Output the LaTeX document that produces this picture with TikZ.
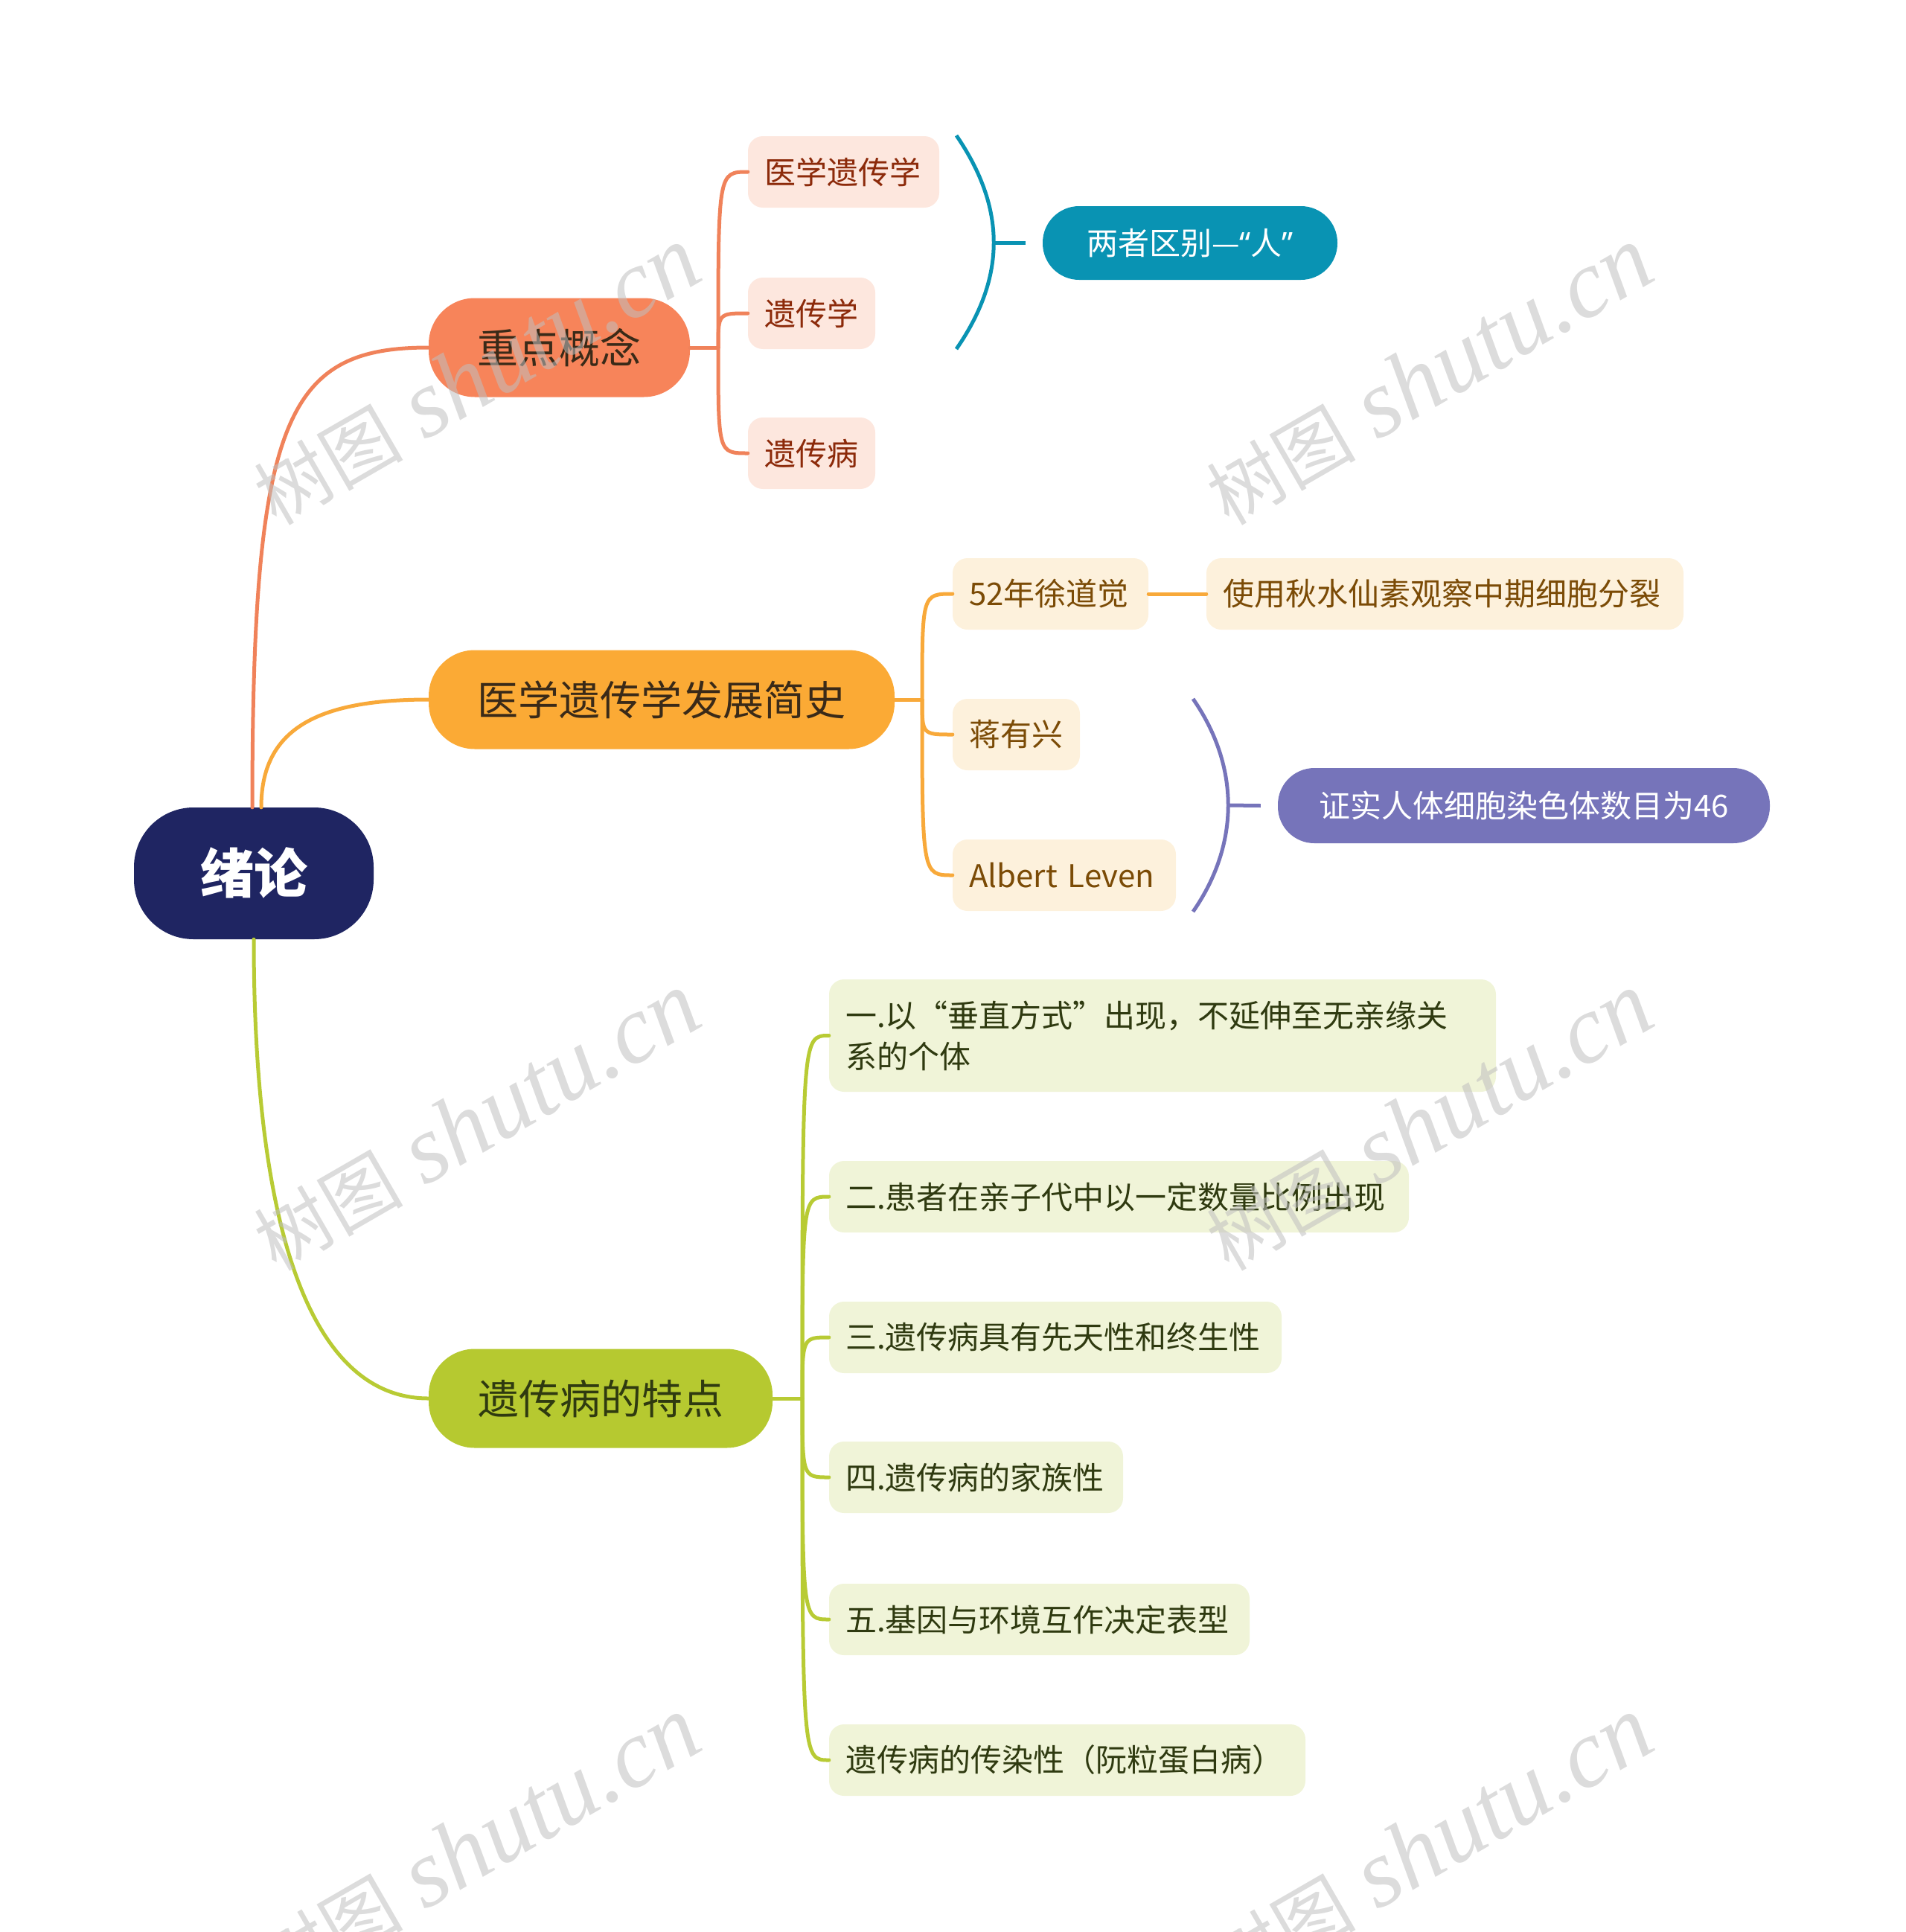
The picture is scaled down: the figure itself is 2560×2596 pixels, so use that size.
\documentclass[tikz,border=0pt]{standalone}
\usepackage{fontspec}
\setmainfont{Noto Sans CJK SC}
\newfontfamily\lat{Noto Sans}
\newfontfamily\wmcjk{Noto Sans CJK SC}
\newfontfamily\wmlat{Liberation Serif}
\definecolor{rootc}{HTML}{1F2562}
\definecolor{orgB}{HTML}{F7845A}
\definecolor{orgL}{HTML}{F0825A}
\definecolor{peach}{HTML}{FDE7DE}
\definecolor{peachT}{HTML}{8C2A0A}
\definecolor{tealc}{HTML}{0993B3}
\definecolor{yelB}{HTML}{FBAA35}
\definecolor{yelL}{HTML}{F8A93A}
\definecolor{yelF}{HTML}{FDF1DC}
\definecolor{yelT}{HTML}{7B4B06}
\definecolor{purp}{HTML}{7674BA}
\definecolor{grnB}{HTML}{B6C930}
\definecolor{grnL}{HTML}{B8CB34}
\definecolor{grnF}{HTML}{F0F4D8}
\definecolor{grnT}{HTML}{2F3A10}
\definecolor{darkT}{HTML}{3A2A18}
\begin{document}
\begin{tikzpicture}[x=1pt,y=-1pt,
  rootbox/.style={fill=rootc, rounded corners=80pt, minimum width=322pt, minimum height=177pt, inner sep=0pt, text=white, font=\fontsize{72}{80}\selectfont\bfseries},
  mainbox/.style={rounded corners=62pt, minimum height=133pt, inner sep=0pt, font=\fontsize{55}{62}\selectfont},
  leafbox/.style={rounded corners=20pt, minimum height=96pt, inner xsep=22pt, inner ysep=0pt, align=left, font=\fontsize{42}{55}\selectfont},
  pillbox/.style={rounded corners=49pt, minimum height=99pt, inner sep=0pt, text=white, font=\fontsize{42}{50}\selectfont},
  conn/.style={line width=5pt, line cap=round},
  wm/.style={rotate=30, text=black!25, opacity=0.55, inner sep=0pt}
]
\useasboundingbox (0,0) rectangle (2560,2596);

% root
\node[rootbox] (root) at (341,1173.5) {绪论};

% main branches
\node[mainbox, fill=orgB, text=darkT, minimum width=351pt] (c1) at (751.5,467) {重点概念};
\node[mainbox, fill=yelB, text=darkT, minimum width=626pt] (c2) at (889,940) {医学遗传学发展简史};
\node[mainbox, fill=grnB, text=grnT, minimum width=462pt] (c3) at (807,1879) {遗传病的特点};

% concept leaves
\node[leafbox, fill=peach, text=peachT, text width=213pt] (a1) at (1133.5,231) {医学遗传学};
\node[leafbox, fill=peach, text=peachT, text width=127pt] (a2) at (1090.5,421) {遗传学};
\node[leafbox, fill=peach, text=peachT, text width=127pt] (a3) at (1090.5,609) {遗传病};
\node[pillbox, fill=tealc, minimum width=396pt] (ta) at (1599,326.5) {两者区别—{\lat“}人{\lat”}};

% history leaves
\node[leafbox, fill=yelF, text=yelT, text width=219pt] (b1) at (1411.5,798) {52年徐道觉};
\node[leafbox, fill=yelF, text=yelT, text width=597pt] (b1x) at (1941.5,798) {使用秋水仙素观察中期细胞分裂};
\node[leafbox, fill=yelF, text=yelT, text width=127pt] (b2) at (1365.5,987) {蒋有兴};
\node[leafbox, fill=yelF, text=yelT, text width=256pt] (b3) at (1430,1176) {Albert Leven};
\node[pillbox, fill=purp, minimum width=661pt, minimum height=101pt] (pb) at (2047.5,1082.5) {证实人体细胞染色体数目为46};

% features leaves
\node[leafbox, fill=grnF, text=grnT, text width=852pt, minimum height=151pt] (d1) at (1562,1391.5) {一.以“垂直方式”出现，不延伸至无亲缘关\\系的个体};
\node[leafbox, fill=grnF, text=grnT, text width=735pt] (d2) at (1503.5,1608) {二.患者在亲子代中以一定数量比例出现};
\node[leafbox, fill=grnF, text=grnT, text width=564pt] (d3) at (1418,1797) {三.遗传病具有先天性和终生性};
\node[leafbox, fill=grnF, text=grnT, text width=351pt] (d4) at (1311.5,1985) {四.遗传病的家族性};
\node[leafbox, fill=grnF, text=grnT, text width=521pt] (d5) at (1396.5,2176) {五.基因与环境互作决定表型};
\node[leafbox, fill=grnF, text=grnT, text width=596pt] (d6) at (1434,2365) {遗传病的传染性（阮粒蛋白病）};

% root connectors
\draw[conn, orgL] ([xshift=-2pt]root.north) .. controls (339,560) and (385,467) .. (c1.west);
\draw[conn, yelL] ([xshift=10pt]root.north) .. controls (351,980) and (425,940) .. (c2.west);
\draw[conn, grnL] (root.south) .. controls (341,1660) and (420,1879) .. (c3.west);

% concept spine
\coordinate (sa) at (965,467);
\draw[conn, orgL] (c1.east) -- (sa);
\foreach \n in {a1,a2,a3}{
  \draw[conn, orgL] (sa) .. controls (sa |- \n.west) and (sa |- \n.west) .. (\n.west);
}
% teal brace
\coordinate (tb1) at (1285,182);
\coordinate (tb2) at (1285,469);
\coordinate (tbm) at (1335,326.5);
\draw[conn, tealc, line cap=butt] (tb1) .. controls (1352,280) and (1352,372) .. (tb2);
\draw[conn, tealc, line cap=butt] (tbm) -- ([xshift=-23pt]ta.west);

% history spine
\coordinate (sb) at (1239,940);
\draw[conn, yelL] (c2.east) -- (sb);
\foreach \n in {b1,b2,b3}{
  \draw[conn, yelL] (sb) .. controls (sb |- \n.west) and (sb |- \n.west) .. (\n.west);
}
\draw[conn, yelL] (b1.east) -- (b1x.west);
% purple brace
\coordinate (pb1) at (1603,939);
\coordinate (pb2) at (1603,1225);
\coordinate (pbm) at (1650,1082);
\draw[conn, purp, line cap=butt] (pb1) .. controls (1666,1030) and (1666,1134) .. (pb2);
\draw[conn, purp, line cap=butt] (pbm) -- ([xshift=-23pt]pb.west);

% features spine
\coordinate (sd) at (1078,1879);
\draw[conn, grnL] (c3.east) -- (sd);
\foreach \n in {d1,d2,d3,d4,d5,d6}{
  \draw[conn, grnL] (sd) .. controls (sd |- \n.west) and (sd |- \n.west) .. (\n.west);
}

% watermarks
\foreach \p [count=\i] in {(640,505),(1920,505),(640,1507),(1920,1507),(640,2480),(1920,2480)}{
  \node[wm] (wm\i) at \p {\wmcjk\fontsize{100}{110}\selectfont 树图\hspace{30pt}{\wmlat\itshape\fontsize{130}{140}\selectfont shutu.cn}};
}
\end{tikzpicture}
\end{document}
